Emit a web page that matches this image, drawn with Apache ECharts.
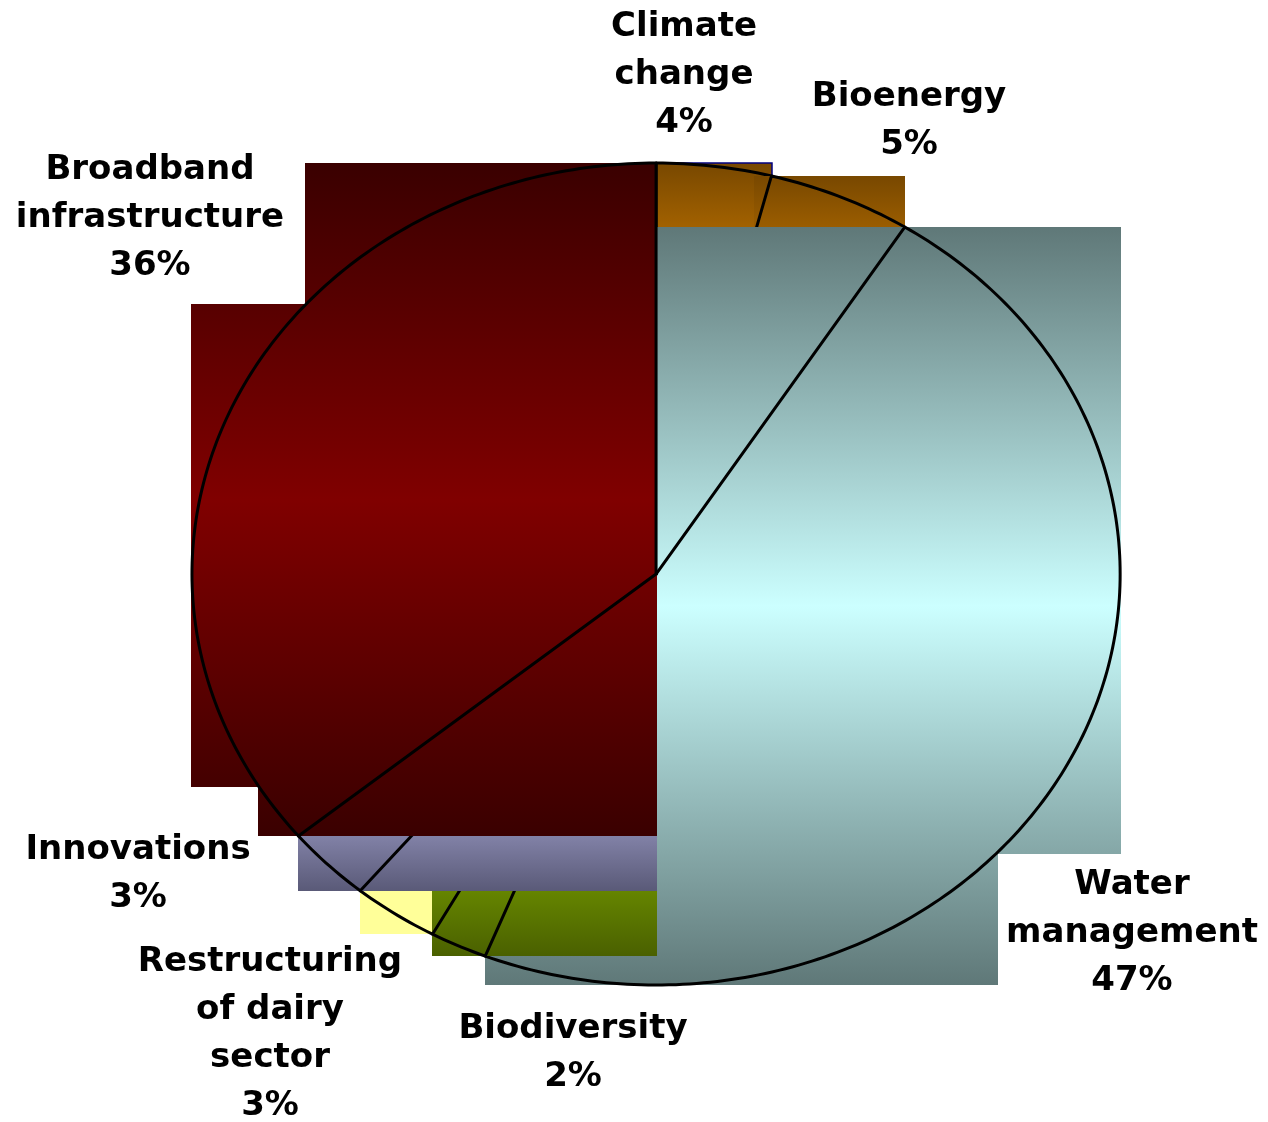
<!DOCTYPE html>
<html><head><meta charset="utf-8">
<script src="https://cdn.jsdelivr.net/npm/echarts@6/dist/echarts.min.js"></script>
<style>html,body{margin:0;padding:0;background:#fff}#c{width:1268px;height:1122px}</style>
</head><body><div id="c"></div>
<script>
// ---- data ----
const categories = ['Climate\nchange', 'Bioenergy', 'Water\nmanagement', 'Biodiversity', 'Restructuring\nof dairy\nsector', 'Innovations', 'Broadband\ninfrastructure'];
const values = [4, 5, 47, 2, 3, 3, 36];

// ---- styles / layout (not data) ----
const gradColors = [['#784800','#ff9900'], ['#784800','#ff9900'], ['#5f7878','#ccffff'], ['#4a6000','#99cc00'], ['#ffff99','#ffff99'], ['#5a5a78','#ccccff'], ['#3a0000','#800000']];
const rectStroke = ['#000080', null, null, null, null, null, null];
const bandCuts = [[], [0.15], [0.826], [], [], [], [0.21, 0.925]];
const bandExtendRight = [[], [], [], [], [], [], [2]];
const drawRank = [0, 1, 2, 4, 3, 5, 6];
const labelCenters = [[684, 75], [909, 121], [1132, 933], [573, 1053], [270, 1034], [138, 874], [150, 218]];

const total = values.reduce((a, b) => a + b, 0);

function renderItem(params, api) {
  const i = params.dataIndex;
  const W = api.getWidth(), H = api.getHeight();
  const cx = W * 0.5174, cy = H * 0.5116, rx = W * 0.366, ry = H * 0.3663;
  let before = 0;
  for (let k = 0; k < i; k++) before += values[k];
  const v = api.value(0);
  const a0 = before / total * 2 * Math.PI, a1 = (before + v) / total * 2 * Math.PI;
  const pts = [[cx, cy]];
  const n = Math.max(6, Math.ceil((a1 - a0) / 0.015));
  for (let k = 0; k <= n; k++) {
    const a = a0 + (a1 - a0) * k / n;
    pts.push([cx + rx * Math.sin(a), cy - ry * Math.cos(a)]);
  }
  const dense = [];
  for (let k = 0; k < pts.length; k++) {
    const p = pts[k], q = pts[(k + 1) % pts.length];
    for (let s = 0; s < 80; s++) dense.push([p[0] + (q[0] - p[0]) * s / 80, p[1] + (q[1] - p[1]) * s / 80]);
  }
  let ymin = Infinity, ymax = -Infinity, gxmax = -Infinity;
  dense.forEach(p => { ymin = Math.min(ymin, p[1]); ymax = Math.max(ymax, p[1]); gxmax = Math.max(gxmax, p[0]); });
  const cuts = [0, ...bandCuts[i], 1].map(f => Math.round(ymin + (ymax - ymin) * f));
  const gc = gradColors[i];
  const rank = drawRank[i];
  const children = [];
  for (let b = 0; b < cuts.length - 1; b++) {
    const y0 = cuts[b], y1 = cuts[b + 1];
    let xmin = Infinity, xmax = -Infinity;
    dense.forEach(p => { if (p[1] >= y0 - 0.5 && p[1] <= y1 + 0.5) { xmin = Math.min(xmin, p[0]); xmax = Math.max(xmax, p[0]); } });
    if (bandExtendRight[i].indexOf(b) >= 0) xmax = gxmax;
    xmin = Math.floor(xmin); xmax = Math.ceil(xmax);
    const extra = (b < cuts.length - 2) ? 1 : 0;
    if (xmin < xmax) {
      children.push({
        type: 'rect', z2: rank * 3,
        shape: { x: xmin, y: y0, width: xmax - xmin, height: y1 - y0 + extra },
        style: {
          fill: new echarts.graphic.LinearGradient(0, ymin, 0, ymax, [
            { offset: 0, color: gc[0] }, { offset: 0.5, color: gc[1] }, { offset: 1, color: gc[0] }], true),
          stroke: rectStroke[i] || null, lineWidth: rectStroke[i] ? 1.5 : 0
        }
      });
    }
  }
  children.push({
    type: 'polygon', z2: rank * 3 + 1,
    shape: { points: pts },
    style: { fill: null, stroke: '#000', lineWidth: 3, lineJoin: 'round' }
  });
  const lc = labelCenters[i];
  children.push({
    type: 'text', z2: 100,
    x: lc[0] * W / 1268, y: lc[1] * H / 1122,
    style: {
      text: categories[i] + '\n' + v + '%',
      fontSize: 34, fontWeight: 'bold', fontFamily: 'DejaVu Sans',
      fill: '#000', align: 'center', verticalAlign: 'middle', lineHeight: 48
    }
  });
  return { type: 'group', children: children };
}

const chart = echarts.init(document.getElementById('c'), null, { renderer: 'canvas' });
chart.setOption({
  animation: false,
  backgroundColor: '#ffffff',
  series: [{
    type: 'custom',
    coordinateSystem: 'none',
    renderItem: renderItem,
    data: values.map(v => [v])
  }]
});
</script>
</body></html>
